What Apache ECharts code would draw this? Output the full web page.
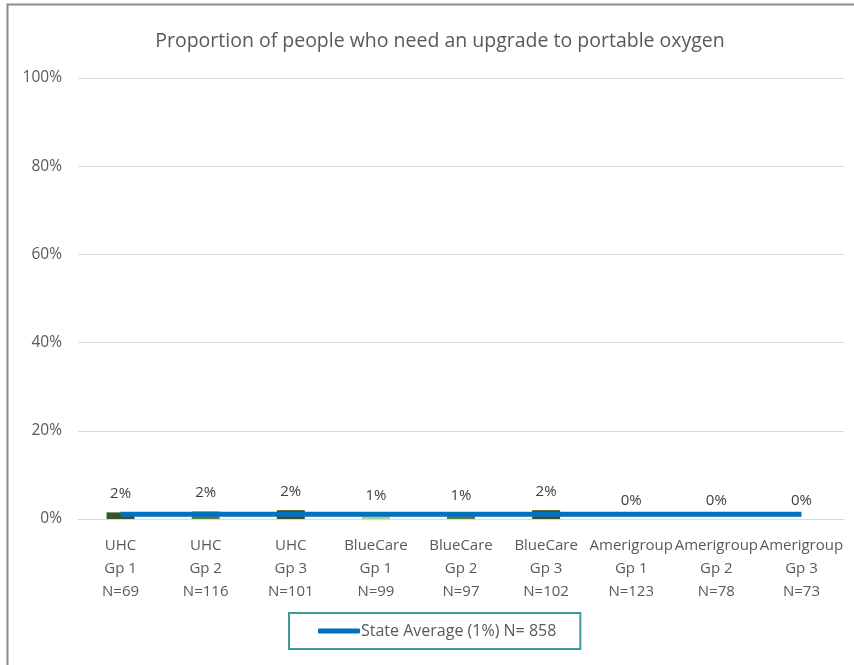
<!DOCTYPE html>
<html>
<head>
<meta charset="utf-8">
<script src="https://cdn.jsdelivr.net/npm/echarts@6/dist/echarts.min.js"></script>
<style>html,body{margin:0;padding:0;background:#fff;}#c{width:854px;height:665px;}</style>
</head>
<body>
<div id="c"></div>
<script>
const categories = ['UHC\nGp 1\nN=69','UHC\nGp 2\nN=116','UHC\nGp 3\nN=101','BlueCare\nGp 1\nN=99','BlueCare\nGp 2\nN=97','BlueCare\nGp 3\nN=102','Amerigroup\nGp 1\nN=123','Amerigroup\nGp 2\nN=78','Amerigroup\nGp 3\nN=73'];
const barValues = [1.5, 1.7, 2.0, 1.0, 1.0, 2.0, 0, 0, 0];
const barLabels = ['2%','2%','2%','1%','1%','2%','0%','0%','0%'];
const barColors = ['#375623','#548235','#375623','#A9D18E','#548235','#375623','#548235','#548235','#548235'];
const stateAverage = [1.1, 1.1, 1.1, 1.1, 1.1, 1.1, 1.1, 1.1, 1.1];
const legendName = 'State Average (1%) N= 858';
const yTicks = [0, 20, 40, 60, 80, 100];

const font = 'Open Sans';
const chart = echarts.init(document.getElementById('c'));
chart.setOption({
  animation: false,
  backgroundColor: '#fff',
  graphic: [{
    type: 'polyline', silent: true,
    shape: { points: [[7.5, 700], [7.5, 4.5], [900, 4.5]] },
    style: { stroke: '#8c8c8c', lineWidth: 2, fill: null }
  }],
  title: {
    text: 'Proportion of people who need an upgrade to portable oxygen',
    left: 435, top: 26, textAlign: 'center',
    textStyle: { fontFamily: font, fontSize: 19.5, fontWeight: 'normal', color: '#595959' }
  },
  legend: {
    data: [legendName],
    left: 289, top: 613,
    padding: [10, 24, 10, 29],
    borderColor: '#3F9A9A', borderWidth: 2,
    itemWidth: 42, itemHeight: 5, itemGap: 0,
    icon: 'roundRect',
    textStyle: { fontFamily: font, fontSize: 16, color: '#595959', padding: [0, 0, 0, -4] }
  },
  grid: { left: 78, right: 10, top: 78, bottom: 146, containLabel: false },
  xAxis: {
    type: 'category', data: categories,
    axisLine: { lineStyle: { color: '#d9d9d9', width: 1 } },
    axisTick: { show: false },
    axisLabel: { interval: 0, fontFamily: font, fontSize: 15, color: '#595959', lineHeight: 23, margin: 15 }
  },
  yAxis: {
    type: 'value', min: 0, max: 100, interval: 20,
    axisLine: { show: false }, axisTick: { show: false },
    splitLine: { lineStyle: { color: '#d9d9d9', width: 1 } },
    axisLabel: { formatter: v => yTicks.includes(v) ? v + '%' : '', fontFamily: font, fontSize: 15.5, color: '#595959', margin: 16 }
  },
  series: [{
    type: 'bar', barWidth: 28,
    data: barValues.map((v, i) => ({ value: v, itemStyle: { color: barColors[i] } })),
    label: { show: true, position: 'top', distance: 11, formatter: p => barLabels[p.dataIndex], fontFamily: font, fontSize: 15, color: '#404040' },
    z: 1
  }, {
    name: legendName, type: 'line', data: stateAverage,
    symbol: 'none', lineStyle: { color: '#0070C0', width: 5 }, itemStyle: { color: '#0070C0' },
    z: 3
  }]
});
</script>
</body>
</html>
